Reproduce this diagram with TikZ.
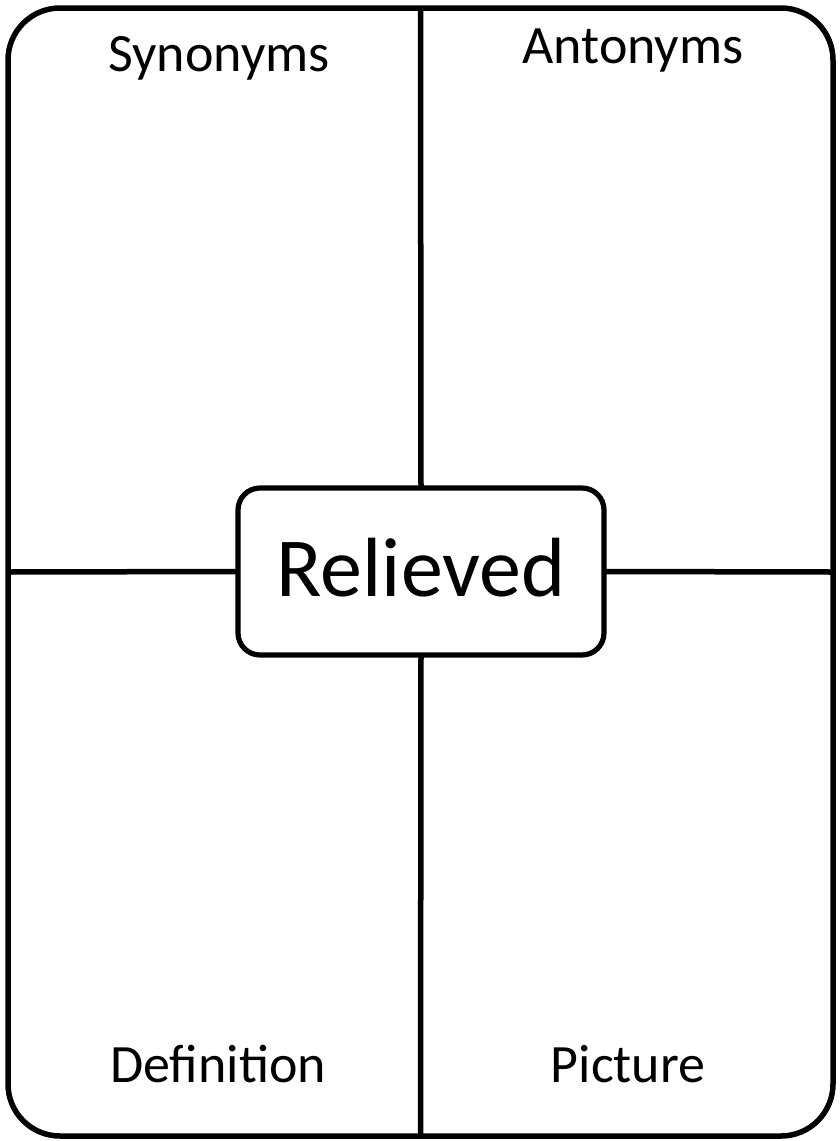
\documentclass[tikz,border=0pt]{standalone}
\usepackage{fontspec}
\setmainfont{Carlito}
\usepackage{tikz}
\usetikzlibrary{positioning}

\begin{document}
\begin{tikzpicture}[
    x=1pt, y=-1pt,
    frame/.style={rectangle, draw=black, line width=5.5pt, rounded corners=52pt, outer sep=0pt, minimum width=825pt, minimum height=1128pt},
    wordbox/.style={rectangle, draw=black, line width=5.2pt, rounded corners=22pt, fill=white, outer sep=0pt, minimum width=366pt, minimum height=167pt, text height=63pt, text depth=14pt, inner sep=0pt, font=\fontsize{84}{90}\selectfont},
    quad/.style={anchor=base, inner sep=0pt, font=\fontsize{54}{60}\selectfont},
    divider/.style={draw=black, line width=5.5pt},
]
\useasboundingbox (0,0) rectangle (840,1141);
\node[frame] (card) at (420.5,572) {};
\node[wordbox] (word) at (421,571.5) {Relieved};

% Quadrant titles.
\node[quad] (syn) at (219,71)   {Synonyms};
\node[quad] (ant) at (633,63)   {Antonyms};
\node[quad] (def) at (218,1082) {Definition};
\node[quad] (pic) at (628,1082) {Picture};

% Dividers from the card edge to the word box.
\draw[divider] (card.north) -- (word.north);
\draw[divider] (word.south) -- (card.south);
\draw[divider] (card.west)  -- (word.west);
\draw[divider] (word.east)  -- (card.east);
\end{tikzpicture}
\end{document}
